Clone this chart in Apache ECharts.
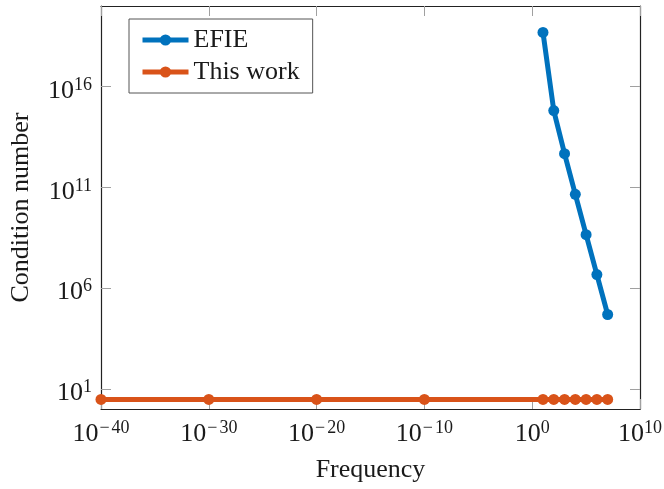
<!DOCTYPE html>
<html>
<head>
<meta charset="utf-8">
<script src="https://cdn.jsdelivr.net/npm/echarts@6/dist/echarts.min.js"></script>
<style>
html,body{margin:0;padding:0;background:#fff;}
#chart{width:664px;height:489px;}
</style>
</head>
<body>
<div id="chart"></div>
<script>
// ---- data ----
var efieFreq = [1e1, 1e2, 1e3, 1e4, 1e5, 1e6, 1e7];
var efieCond = [4.9e18, 6.5e14, 4.7e12, 4.5e10, 4.5e8, 4.7e6, 4.9e4];
var thisWorkFreq = [1e-40, 1e-30, 1e-20, 1e-10, 1e1, 1e2, 1e3, 1e4, 1e5, 1e6, 1e7];
var thisWorkCond = [3, 3, 3, 3, 3, 3, 3, 3, 3, 3, 3];
var xTicks = [1e-40, 1e-30, 1e-20, 1e-10, 1e0, 1e10];
var yTicks = [1e1, 1e6, 1e11, 1e16];
var seriesNames = ['EFIE', 'This work'];

var FONT = '"Liberation Serif", "Times New Roman", serif';
var TXT = '#1a1a1a';

function pairs(xs, ys) { return xs.map(function (x, i) { return [x, ys[i]]; }); }
function supLabel(v) {
  var e = Math.round(Math.log10(v));
  if (e < 0) return '{b|10}{m|\u2212}{s|' + (-e) + '}';
  return '{b|10}{s|' + e + '}';
}
var rich = {
  b: { fontSize: 26, fontFamily: FONT, color: TXT, lineHeight: 28, verticalAlign: 'bottom' },
  s: { fontSize: 18, fontFamily: FONT, color: TXT, lineHeight: 18, verticalAlign: 'top' },
  m: { fontSize: 18, fontFamily: FONT, color: TXT, lineHeight: 18, verticalAlign: 'top', padding: [0, 2, 0, 1] }
};
var axisLineStyle = { show: true, onZero: false, lineStyle: { color: '#222', width: 1.2 } };
var tickLine = { color: '#a0a0a0', width: 1 };

function xAx(pos, labels) {
  return {
    type: 'log', logBase: 10, min: 1e-40, max: 1e10, position: pos,
    name: labels ? 'Frequency' : '', nameLocation: 'middle', nameGap: 48,
    nameTextStyle: { fontSize: 26, fontFamily: FONT, color: TXT },
    axisLine: axisLineStyle,
    axisTick: { show: true, inside: true, length: 10, customValues: xTicks, lineStyle: tickLine },
    axisLabel: { show: labels, customValues: xTicks, margin: 10, formatter: supLabel, rich: rich },
    splitLine: { show: false }, minorTick: { show: false }
  };
}
function yAx(pos, labels) {
  return {
    type: 'log', logBase: 10, min: 1e0, max: 1e20, position: pos,
    name: labels ? 'Condition number' : '', nameLocation: 'middle', nameGap: 67, nameRotate: 90,
    nameTextStyle: { fontSize: 26, fontFamily: FONT, color: TXT },
    axisLine: axisLineStyle,
    axisTick: { show: true, inside: true, length: 10, customValues: yTicks, lineStyle: tickLine },
    axisLabel: { show: labels, customValues: yTicks, margin: 9, formatter: supLabel, rich: rich, padding: [7, 0, 0, 0] },
    splitLine: { show: false }, minorTick: { show: false }
  };
}

var chart = echarts.init(document.getElementById('chart'), null, { renderer: 'canvas' });
chart.setOption({
  animation: false,
  backgroundColor: '#fff',
  grid: { left: 101, right: 24, top: 6, bottom: 80, containLabel: false, outerBoundsMode: 'none' },
  xAxis: [xAx('bottom', true), xAx('top', false)],
  yAxis: [yAx('left', true), yAx('right', false)],
  legend: {
    data: seriesNames, orient: 'vertical', left: 129, top: 19,
    padding: [8, 13, 8, 11], itemGap: 6, itemWidth: 46, itemHeight: 14,
    borderColor: '#555', borderWidth: 1, backgroundColor: '#fff',
    lineStyle: { width: 5 },
    textStyle: { fontSize: 26, fontFamily: FONT, color: TXT, lineHeight: 26, padding: [0, 0, 0, 0] }
  },
  series: [
    {
      name: seriesNames[0], type: 'line', data: pairs(efieFreq, efieCond),
      symbol: 'circle', symbolSize: 11, clip: false,
      lineStyle: { color: '#0072BD', width: 5 }, itemStyle: { color: '#0072BD' }
    },
    {
      name: seriesNames[1], type: 'line', data: pairs(thisWorkFreq, thisWorkCond),
      symbol: 'circle', symbolSize: 11, clip: false,
      lineStyle: { color: '#D95319', width: 5 }, itemStyle: { color: '#D95319' }
    }
  ]
});
</script>
</body>
</html>
